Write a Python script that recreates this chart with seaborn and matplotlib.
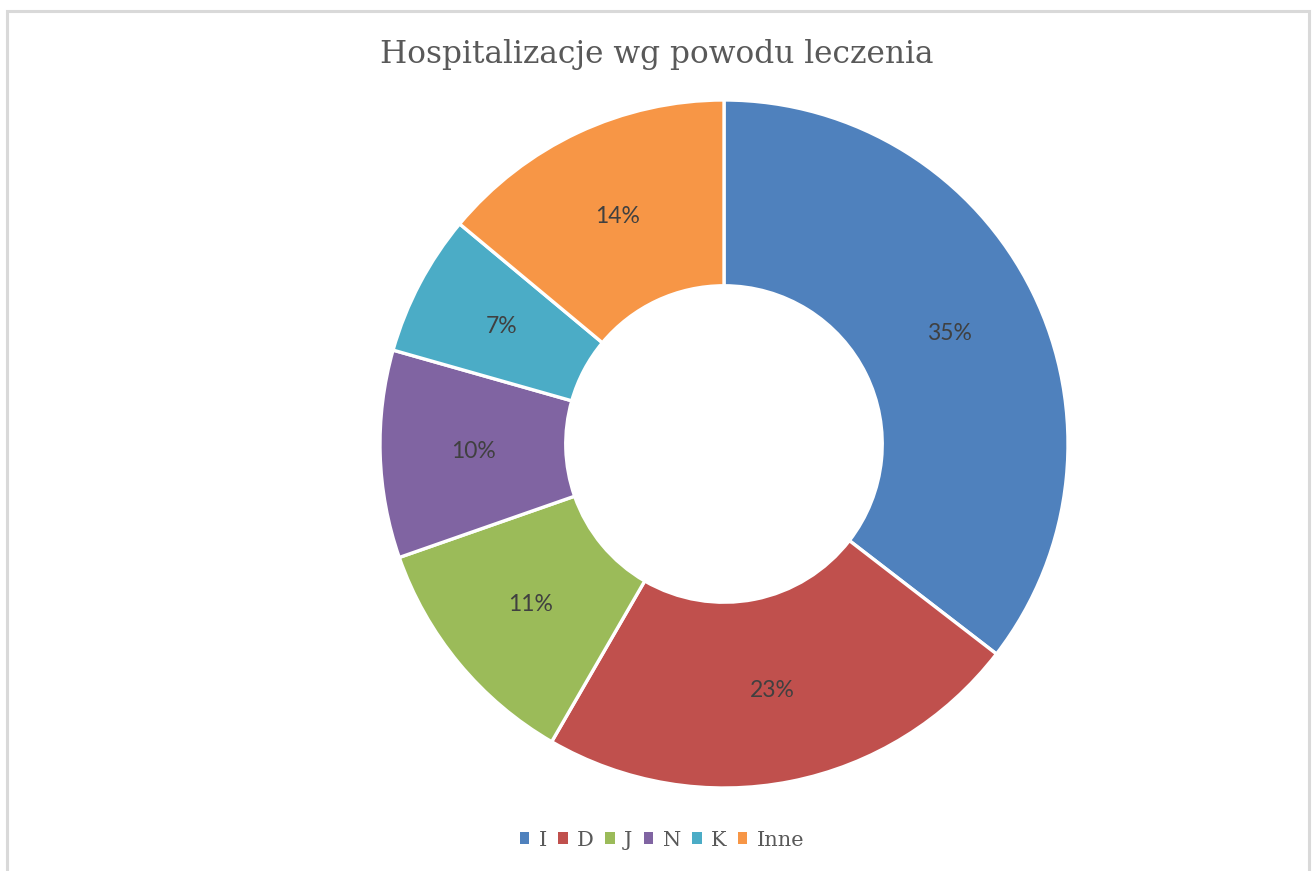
import matplotlib
matplotlib.use("Agg")
import matplotlib.pyplot as plt
import matplotlib.patches as mpatches
import seaborn as sns

# data (shares in %)
categories = ["I", "D", "J", "N", "K", "Inne"]
shares = [35.45, 22.9, 11.3, 9.75, 6.65, 13.95]
colors = ["#4F81BD", "#C0504D", "#9BBB59", "#8064A2", "#4BACC6", "#F79646"]
title = "Hospitalizacje wg powodu leczenia"

sns.set_theme(style="white")
plt.rcParams["font.family"] = ["DejaVu Serif"]

fig = plt.figure(figsize=(13.14, 8.71), dpi=100)

# light grey frame around the chart area
frame = mpatches.Rectangle((7 / 1314, -0.05), 1302 / 1314, 1.05 - 11 / 871,
                           transform=fig.transFigure, fill=False,
                           edgecolor="#d9d9d9", linewidth=2.2)
fig.patches.append(frame)

# donut centred at roughly (724, 444) px with radius ~344 px
cx, cy, r = 724, 444, 344
ax = fig.add_axes([(cx - r) / 1314, (871 - cy - r) / 871, 2 * r / 1314, 2 * r / 871])
wedges, texts, autotexts = ax.pie(
    shares,
    colors=colors,
    startangle=90,
    counterclock=False,
    autopct="%.0f%%",
    pctdistance=0.73,
    wedgeprops=dict(width=0.54, edgecolor="white", linewidth=2.4),
    textprops=dict(color="#404040", fontsize=16.5, family=["Lato", "DejaVu Sans"]),
)
ax.set_xlim(-1, 1)
ax.set_ylim(-1, 1)
ax.set_aspect("equal")
ax.axis("off")

fig.text(657 / 1314, 1 - 55 / 871, title, ha="center", va="center",
         fontsize=22.5, color="#595959")

handles = [mpatches.Patch(facecolor=c, edgecolor="none") for c in colors]
fig.legend(handles, categories, loc="center", bbox_to_anchor=(662 / 1314, 1 - 840 / 871),
           ncol=len(categories), frameon=False, fontsize=15, handlelength=0.45,
           handleheight=0.45, handletextpad=0.45, columnspacing=0.55,
           labelcolor="#595959")

fig.savefig("out.png", dpi=100)
